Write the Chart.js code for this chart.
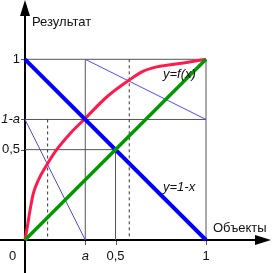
<!DOCTYPE html>
<html>
<head>
<meta charset="utf-8">
<script src="https://cdn.jsdelivr.net/npm/chart.js@4/dist/chart.umd.min.js"></script>
<style>
  html, body { margin: 0; padding: 0; background: #fff; }
  canvas { display: block; }
</style>
</head>
<body>
<canvas id="chart" width="273" height="273"></canvas>
<script>
// valeurs
const a = 0.333;
const curveX = [0, 0.013, 0.028, 0.046, 0.074, 0.12, 0.175, 0.25, 0.333, 0.45, 0.576, 0.654, 0.728, 0.875, 1];
const curveY = [0, 0.074, 0.166, 0.258, 0.332, 0.415, 0.5, 0.59, 0.673, 0.79, 0.885, 0.934, 0.958, 0.98, 1];
const diagX = [0, 1];
const greenY = [0, 1];   // y = x
const blueY = [1, 0];    // y = 1 - x
const dashX = [0.125, 0.576];
const xTickValues = [0, a, 0.5, 1];
const xTickLabels = ['0', 'a', '0,5', '1'];
const yTickValues = [1, 1 - a, 0.5];
const yTickLabels = ['1', '1-a', '0,5'];

const pts = (xs, ys) => xs.map((x, i) => ({ x: x, y: ys[i] }));

function seg(p, color, width, dash) {
    return {
        data: p,
        borderColor: color,
        borderWidth: width,
        borderDash: dash || [],
        showLine: true,
        pointRadius: 0,
        fill: false,
        tension: 0
    };
}

const gray = '#555';
const datasets = [
    seg(pts(diagX, greenY), '#009a00', 3.5),
    seg(pts(diagX, blueY), '#0000ff', 4),
    Object.assign(seg(pts(curveX, curveY), '#ff1a4d', 3), { cubicInterpolationMode: 'monotone' }),
    seg([{ x: 0, y: 1 - a }, { x: a, y: 0 }], '#4a4aff', 1),
    seg([{ x: a, y: 1 }, { x: 1, y: 1 - a }], '#4a4aff', 1),
    seg([{ x: dashX[0], y: 1 - a }, { x: dashX[0], y: 0 }], '#333', 1, [3, 3]),
    seg([{ x: dashX[1], y: 1 }, { x: dashX[1], y: 0 }], '#333', 1, [3, 3]),
    seg([{ x: 0, y: 1 }, { x: 1, y: 1 }], gray, 1),
    seg([{ x: 0, y: 1 - a }, { x: 1, y: 1 - a }], gray, 1),
    seg([{ x: 0, y: 0.5 }, { x: 0.5, y: 0.5 }], gray, 1),
    seg([{ x: a, y: 0 }, { x: a, y: 1 }], gray, 1),
    seg([{ x: 0.5, y: 0 }, { x: 0.5, y: 0.5 }], gray, 1),
    seg([{ x: 1, y: 0 }, { x: 1, y: 1 }], gray, 1)
];

// axes, flèches et textes
const decor = {
    id: 'decor',
    beforeDatasetsDraw(chart) {
        const ctx = chart.ctx;
        const xs = chart.scales.x, ys = chart.scales.y;
        const x0 = xs.getPixelForValue(0), y0 = ys.getPixelForValue(0);
        ctx.save();
        // petites graduations
        ctx.strokeStyle = gray;
        ctx.lineWidth = 1;
        ctx.beginPath();
        xTickValues.slice(1).forEach(v => {
            const px = Math.round(xs.getPixelForValue(v)) + 0.5;
            ctx.moveTo(px, y0); ctx.lineTo(px, y0 + 5);
        });
        yTickValues.forEach(v => {
            const py = Math.round(ys.getPixelForValue(v)) + 0.5;
            ctx.moveTo(x0 - 4, py); ctx.lineTo(x0, py);
        });
        ctx.stroke();
        // axes
        ctx.strokeStyle = '#000';
        ctx.lineWidth = 2;
        ctx.beginPath();
        ctx.moveTo(0, y0); ctx.lineTo(258, y0);
        ctx.moveTo(x0, 273); ctx.lineTo(x0, 14);
        ctx.stroke();
        ctx.fillStyle = '#000';
        ctx.beginPath();
        ctx.moveTo(x0, 0); ctx.lineTo(x0 - 5, 16); ctx.lineTo(x0 + 5, 16); ctx.closePath();
        ctx.fill();
        ctx.beginPath();
        ctx.moveTo(271, y0); ctx.lineTo(255, y0 - 5); ctx.lineTo(255, y0 + 5); ctx.closePath();
        ctx.fill();
        ctx.restore();
    },
    afterDatasetsDraw(chart) {
        const ctx = chart.ctx;
        const xs = chart.scales.x, ys = chart.scales.y;
        const y0 = ys.getPixelForValue(0);
        ctx.save();
        ctx.fillStyle = '#111';
        ctx.textBaseline = 'middle';
        const normal = '13px "Liberation Sans", Arial, sans-serif';
        const italic = 'italic 13px "Liberation Sans", Arial, sans-serif';

        ctx.font = normal;
        ctx.textAlign = 'left';
        ctx.fillText('Результат', 32, 22);
        ctx.fillText('Объекты', 213, 228);

        ctx.textAlign = 'right';
        yTickLabels.forEach((t, i) => {
            ctx.font = t.indexOf('a') >= 0 ? italic : normal;
            ctx.fillText(t, 20, ys.getPixelForValue(yTickValues[i]));
        });
        ctx.textAlign = 'center';
        xTickLabels.forEach((t, i) => {
            ctx.font = t === 'a' ? italic : normal;
            let px = xs.getPixelForValue(xTickValues[i]);
            if (i === 0) px = 12.5;
            ctx.fillText(t, px, y0 + 16);
        });

        ctx.font = italic;
        ctx.textAlign = 'left';
        ctx.fillText('y=f(x)', 163, 74);
        ctx.fillText('y=1-x', 163, 187);
        ctx.restore();
    }
};

new Chart(document.getElementById('chart'), {
    type: 'scatter',
    data: { datasets: datasets },
    options: {
        responsive: false,
        animation: false,
        layout: { padding: 0 },
        scales: {
            x: { type: 'linear', display: false, min: -25 / 181, max: 248 / 181 },
            y: { type: 'linear', display: false, min: -33 / 180.7, max: 240 / 180.7 }
        },
        plugins: {
            legend: { display: false },
            tooltip: { enabled: false }
        }
    },
    plugins: [decor]
});
</script>
</body>
</html>
